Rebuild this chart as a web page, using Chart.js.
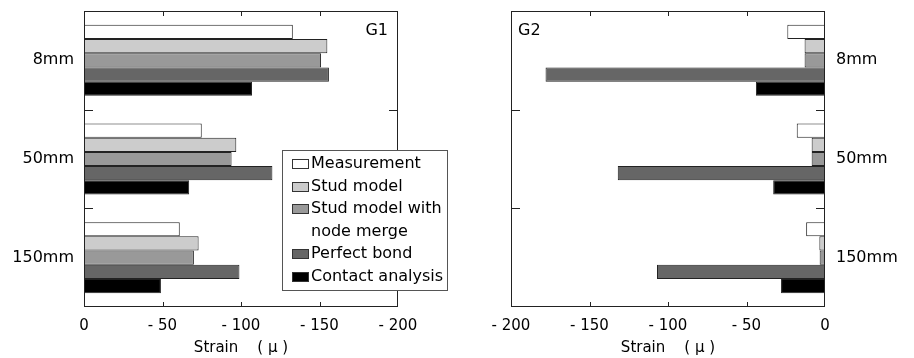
<!DOCTYPE html>
<html>
<head>
<meta charset="utf-8">
<script src="https://cdn.jsdelivr.net/npm/chart.js@4"></script>
<style>
  body { margin: 0; background: #fff; }
  canvas { position: absolute; top: 0; }
</style>
</head>
<body>
<canvas id="g1" width="457" height="358" style="left:0"></canvas>
<canvas id="g2" width="457" height="358" style="left:457px"></canvas>
<script>
const categories = ['8mm', '50mm', '150mm'];
const seriesNames = ['Measurement', 'Stud model', 'Stud model with\nnode merge', 'Perfect bond', 'Contact analysis'];
const seriesColors = ['#ffffff', '#cccccc', '#999999', '#666666', '#000000'];
const xTickValues = [0, -50, -100, -150, -200];

// G1 strains
const g1Measurement = [-133, -75, -61];
const g1Stud = [-155, -97, -73];
const g1StudMerge = [-151, -94, -70];
const g1Perfect = [-156, -120, -99];
const g1Contact = [-107, -67, -49];

// G2 strains
const g2Measurement = [-24, -18, -12];
const g2Stud = [-13, -8.5, -3.6];
const g2StudMerge = [-13, -8.5, -3.4];
const g2Perfect = [-178, -132, -107];
const g2Contact = [-44, -33, -28];

Chart.defaults.font.family = '"DejaVu Sans", sans-serif';
Chart.defaults.color = '#000';

function makeDatasets(series) {
  return series.map((vals, i) => ({
    label: seriesNames[i],
    data: vals,
    backgroundColor: seriesColors[i],
    borderColor: '#222',
    borderWidth: 1,
    borderSkipped: false,
    categoryPercentage: 0.72,
    barPercentage: 1
  }));
}

// box around plot + inward ticks + panel tag
const framePlugin = {
  id: 'frame',
  afterDatasetsDraw(chart, args, opts) {
    const { ctx, chartArea: a, scales: { x, y } } = chart;
    ctx.save();
    ctx.strokeStyle = '#222';
    ctx.lineWidth = 1;
    ctx.strokeRect(a.left + 0.5, a.top + 0.5, a.width - 1, a.height - 1);
    ctx.beginPath();
    x.ticks.forEach(t => {
      if (t.value === 0 || t.value === -200) return;
      const px = Math.round(x.getPixelForValue(t.value)) + 0.5;
      ctx.moveTo(px, a.top); ctx.lineTo(px, a.top + 5);
      ctx.moveTo(px, a.bottom); ctx.lineTo(px, a.bottom - 5);
    });
    for (let i = 1; i < categories.length; i++) {
      const py = Math.round((y.getPixelForTick(i - 1) + y.getPixelForTick(i)) / 2) + 0.5;
      ctx.moveTo(a.left, py); ctx.lineTo(a.left + 9, py);
      ctx.moveTo(a.right, py); ctx.lineTo(a.right - 9, py);
    }
    ctx.stroke();
    ctx.fillStyle = '#000';
    ctx.font = '16px "DejaVu Sans"';
    ctx.textBaseline = 'alphabetic';
    if (opts.align === 'right') {
      ctx.textAlign = 'right';
      ctx.fillText(opts.tag, a.right - 10, a.top + 24);
    } else {
      ctx.textAlign = 'left';
      ctx.fillText(opts.tag, a.left + 7, a.top + 24);
    }
    ctx.restore();
  }
};

const legendPlugin = {
  id: 'boxLegend',
  afterDraw(chart) {
    const ctx = chart.ctx;
    const box = { left: 282, top: 150, width: 165, height: 140 };
    const rowH = 22.5;
    ctx.save();
    ctx.fillStyle = '#fff';
    ctx.fillRect(box.left, box.top, box.width, box.height);
    ctx.strokeStyle = '#555';
    ctx.lineWidth = 1;
    ctx.strokeRect(box.left + 0.5, box.top + 0.5, box.width, box.height);
    ctx.font = '16px "DejaVu Sans"';
    ctx.textBaseline = 'middle';
    ctx.textAlign = 'left';
    let row = 0;
    chart.data.datasets.forEach(ds => {
      const lines = ds.label.split('\n');
      const cy = box.top + 14 + row * rowH;
      ctx.fillStyle = ds.backgroundColor;
      ctx.fillRect(292, Math.round(cy - 5), 17, 10);
      ctx.strokeStyle = '#333';
      ctx.strokeRect(292.5, Math.round(cy - 5) + 0.5, 16, 9);
      ctx.fillStyle = '#000';
      lines.forEach((line, k) => ctx.fillText(line, 311, box.top + 14 + (row + k) * rowH));
      row += lines.length;
    });
    ctx.restore();
  }
};

function makeOptions(reverse, yPos, padding, yWidth, tag, tagAlign) {
  return {
    responsive: false,
    animation: false,
    indexAxis: 'y',
    layout: { padding: padding },
    scales: {
      x: {
        type: 'linear',
        min: -200,
        max: 0,
        reverse: reverse,
        grid: { display: false, drawTicks: false },
        border: { display: false },
        afterBuildTicks: s => { s.ticks = xTickValues.map(v => ({ value: v })); },
        afterFit: s => { s.height = 51; s.paddingLeft = 0; s.paddingRight = 0; },
        ticks: {
          font: { size: 15 },
          padding: 10,
          maxRotation: 0,
          autoSkip: false,
          callback: v => v === 0 ? '0' : '- ' + Math.abs(v)
        },
        title: {
          display: true,
          text: 'Strain    ( \u03bc )',
          font: { size: 15 },
          padding: { top: 0, bottom: 1 }
        }
      },
      y: {
        type: 'category',
        position: yPos,
        grid: { display: false, drawTicks: false },
        border: { display: false },
        afterFit: s => { s.width = yWidth; s.paddingTop = 0; s.paddingBottom = 0; },
        ticks: { font: { size: 16 }, padding: yPos === 'left' ? 10 : 11 }
      }
    },
    plugins: {
      legend: { display: false },
      tooltip: { enabled: false },
      frame: { tag: tag, align: tagAlign }
    }
  };
}

new Chart(document.getElementById('g1'), {
  type: 'bar',
  data: {
    labels: categories,
    datasets: makeDatasets([g1Measurement, g1Stud, g1StudMerge, g1Perfect, g1Contact])
  },
  options: makeOptions(true, 'left', { left: 0, right: 59, top: 11, bottom: 0 }, 84, 'G1', 'right'),
  plugins: [framePlugin, legendPlugin]
});

new Chart(document.getElementById('g2'), {
  type: 'bar',
  data: {
    labels: categories,
    datasets: makeDatasets([g2Measurement, g2Stud, g2StudMerge, g2Perfect, g2Contact])
  },
  options: makeOptions(false, 'right', { left: 54, right: 0, top: 11, bottom: 0 }, 89, 'G2', 'left'),
  plugins: [framePlugin]
});
</script>
</body>
</html>
